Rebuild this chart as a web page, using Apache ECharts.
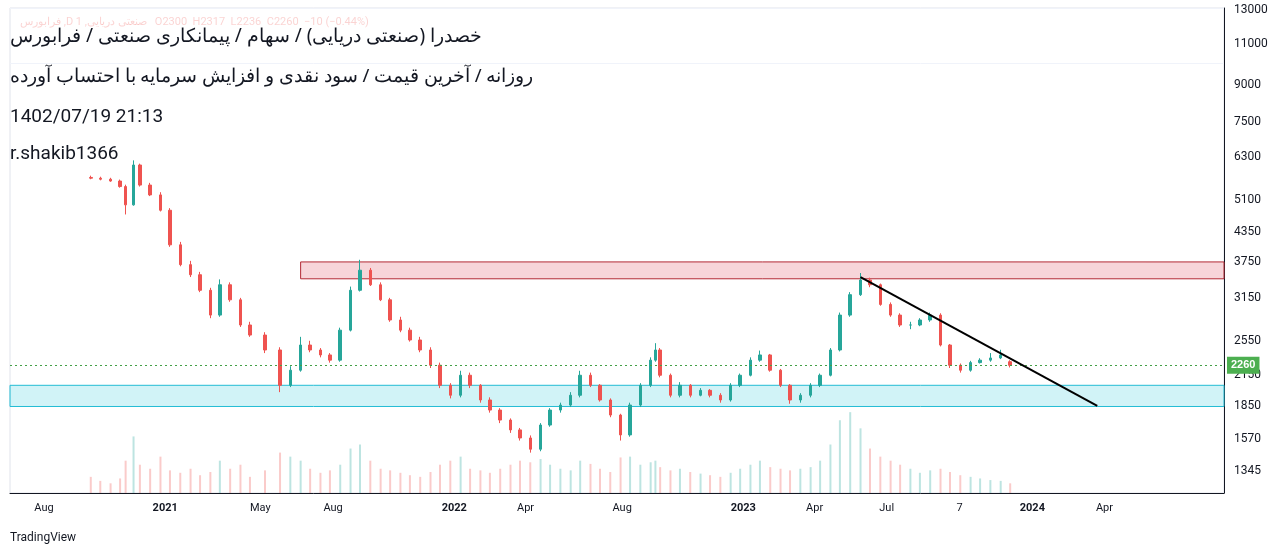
<!DOCTYPE html>
<html><head><meta charset="utf-8">
<script src="https://cdn.jsdelivr.net/npm/echarts@6/dist/echarts.min.js"></script>
<style>html,body{margin:0;padding:0;background:#fff}#c{width:1286px;height:556px}</style>
</head><body><div id="c"></div>
<script>
const dates=['2020-09-29','2020-10-11','2020-10-24','2020-11-05','2020-11-12','2020-11-22','2020-11-30','2020-12-13','2020-12-26','2021-01-07','2021-01-20','2021-02-02','2021-02-14','2021-02-27','2021-03-11','2021-03-24','2021-04-06','2021-04-18','2021-05-07','2021-05-26','2021-06-08','2021-06-21','2021-07-03','2021-07-16','2021-07-28','2021-08-10','2021-08-23','2021-09-04','2021-09-17','2021-09-30','2021-10-12','2021-10-25','2021-11-06','2021-11-19','2021-12-02','2021-12-14','2021-12-27','2022-01-09','2022-01-21','2022-02-03','2022-02-15','2022-02-28','2022-03-13','2022-03-25','2022-04-07','2022-04-20','2022-05-02','2022-05-15','2022-05-28','2022-06-09','2022-06-22','2022-07-04','2022-07-17','2022-07-30','2022-08-11','2022-08-24','2022-09-06','2022-09-12','2022-09-18','2022-10-01','2022-10-13','2022-10-26','2022-11-08','2022-11-20','2022-12-03','2022-12-16','2022-12-28','2023-01-10','2023-01-22','2023-02-04','2023-02-17','2023-03-01','2023-03-14','2023-03-27','2023-04-08','2023-04-21','2023-05-03','2023-05-16','2023-05-29','2023-06-10','2023-06-23','2023-07-06','2023-07-18','2023-07-31','2023-08-12','2023-08-25','2023-09-07','2023-09-19','2023-10-02','2023-10-15','2023-10-27','2023-11-09','2023-11-22','2023-12-04'];
const opens=[5700,5680,5650,5600,5450,4980,6060,5490,5230,4850,4090,3710,3530,3270,2894,3360,3120,2756,2623,2437,2048,2206,2497,2437,2378,2318,2687,3270,3610,3360,3120,2825,2687,2560,2437,2261,2048,1950,2152,2048,1905,1813,1726,1644,1580,1495,1684,1813,1858,1950,2152,2048,1905,1769,1604,1858,2048,2318,2437,2152,1950,2048,1950,1998,1950,1905,2048,2152,2318,2378,2206,2048,1905,1950,2048,2152,2437,2894,3200,3440,3360,3050,2894,2756,2756,2825,2894,2497,2261,2206,2290,2318,2343,2300];
const closes=[5680,5650,5600,5450,4980,6060,5490,5230,4850,4090,3710,3530,3270,2894,3360,3120,2756,2623,2437,2048,2206,2497,2437,2378,2318,2687,3270,3610,3360,3120,2825,2687,2560,2437,2261,2048,1950,2152,2048,1905,1813,1726,1644,1580,1495,1684,1813,1858,1950,2152,2048,1905,1769,1604,1858,2048,2318,2437,2152,1950,2048,1950,1998,1950,1905,2048,2152,2318,2378,2206,2048,1905,1950,2048,2152,2437,2894,3200,3440,3360,3050,2894,2756,2756,2825,2894,2497,2261,2206,2290,2318,2343,2378,2260];
const highs=[5750,5720,5690,5640,5500,6200,6100,5550,5300,4900,4150,3780,3580,3310,3450,3400,3150,2800,2660,2470,2250,2600,2550,2460,2400,2720,3330,3800,3650,3400,3150,2870,2720,2600,2470,2290,2070,2200,2180,2060,1930,1830,1740,1660,1600,1700,1830,1880,1980,2200,2180,2060,1920,1780,1880,2070,2350,2520,2460,2170,2080,2060,2020,2010,1970,2070,2170,2350,2430,2390,2220,2060,1970,2070,2170,2460,2930,3240,3560,3480,3380,3080,2920,2800,2850,2930,2920,2510,2280,2310,2340,2400,2440,2317];
const lows=[5650,5620,5580,5420,4750,4960,5450,5200,4820,4050,3680,3490,3240,2850,2870,3090,2730,2600,2400,1980,2030,2190,2410,2350,2290,2300,2670,3250,3340,3100,2800,2660,2540,2410,2230,2020,1920,1930,2020,1880,1790,1700,1620,1560,1470,1480,1670,1790,1840,1930,2030,1890,1750,1560,1590,1840,2030,2300,2130,1930,1930,1930,1940,1930,1880,1890,2030,2140,2300,2190,2030,1870,1880,1930,2030,2140,2420,2870,3180,3320,3030,2870,2730,2700,2740,2800,2480,2230,2180,2190,2280,2300,2330,2236];
const volumes=[20,15,12,18,40,70,35,30,45,28,25,30,22,26,40,30,35,20,28,50,45,40,30,25,28,35,55,60,40,30,28,25,22,20,26,35,40,45,30,28,25,30,35,40,38,42,35,30,28,40,36,30,26,44,45,35,38,40,32,28,30,26,24,22,20,25,30,35,40,32,30,28,30,32,40,60,90,100,80,55,45,40,35,30,25,28,30,26,22,20,18,16,15,12];
const yTicks=[1345,1570,1850,2150,2550,3150,3750,4350,5100,6300,7500,9000,11000,13000];
const xTicks=['2020-08-01','2021-01-01','2021-05-01','2021-08-01','2022-01-01','2022-04-01','2022-08-01','2023-01-01','2023-04-01','2023-07-01','2023-10-01','2024-01-01','2024-04-01'];
const lastPrice=2260;

const UP='#26a69a',DN='#ef5350';
const T=s=>+new Date(s+'T00:00:00Z');
const XMIN=T('2020-06-19'),XMAX=T('2024-08-30');
const candle=dates.map((d,i)=>[T(d),opens[i],closes[i],lows[i],highs[i]]);
const vol=dates.map((d,i)=>({value:[T(d),volumes[i]],itemStyle:{color:closes[i]>=opens[i]?'rgba(38,166,154,0.3)':'rgba(239,83,80,0.3)'}}));
const mon=['Jan','Feb','Mar','Apr','May','Jun','Jul','Aug','Sep','Oct','Nov','Dec'];
const ts=xTicks.map(T);
const chart=echarts.init(document.getElementById('c'));
const g={left:10,right:62,top:8,bottom:63};
chart.setOption({
  animation:false,
  grid:[Object.assign({},g,{show:true,borderColor:'#e0e3eb',borderWidth:1}),Object.assign({},g)],
  xAxis:[{type:'value',gridIndex:0,min:XMIN,max:XMAX,
    axisLine:{lineStyle:{color:'#131722'}},axisTick:{show:false},splitLine:{show:false},
    axisLabel:{customValues:ts,color:'#131722',fontSize:11,fontFamily:'Roboto',margin:10,showMinLabel:true,showMaxLabel:true,
      formatter:v=>{const d=new Date(v);const m=d.getUTCMonth();if(m===0)return '{b|'+d.getUTCFullYear()+'}';if(m===9)return '7';return mon[m];},
      rich:{b:{fontWeight:'bold',fontSize:11,color:'#131722'}}}},
    {type:'value',gridIndex:1,min:XMIN,max:XMAX,show:false}],
  yAxis:[{type:'log',gridIndex:0,position:'right',min:1205,max:13130,
    axisLine:{show:true,lineStyle:{color:'#131722'}},axisTick:{show:false},
    splitLine:{show:true,lineStyle:{color:'#f0f3fa'}},
    axisLabel:{customValues:yTicks,color:'#131722',fontSize:12,fontFamily:'Roboto',margin:10,formatter:v=>String(v)}},
    {type:'value',gridIndex:1,min:0,max:600,show:false}],
  series:[
    {type:'bar',xAxisIndex:1,yAxisIndex:1,data:vol,barWidth:2},
    {type:'line',xAxisIndex:0,yAxisIndex:0,data:[],itemStyle:{color:'#43a047'},
      markLine:{silent:true,symbol:'none',lineStyle:{color:'#43a047',type:[2,3],width:1.2,opacity:1},data:[
        {yAxis:lastPrice,label:{show:true,position:'end',formatter:String(lastPrice),color:'#fff',backgroundColor:'#4caf50',padding:[3,4],fontSize:11,fontWeight:'bold',distance:3}}]}},
    {type:'candlestick',xAxisIndex:0,yAxisIndex:0,data:candle,barWidth:3,
      itemStyle:{color:UP,color0:DN,borderColor:UP,borderColor0:DN},
      markArea:{silent:true,data:[
        [{coord:[T('2021-06-21'),3760],itemStyle:{color:'rgba(242,190,196,0.65)',borderColor:'#b22833',borderWidth:1}},{coord:[XMAX,3460]}],
        [{coord:[XMIN,2048],itemStyle:{color:'rgba(178,235,242,0.6)',borderColor:'#22bcd4',borderWidth:1}},{coord:[XMAX,1845]}]
      ]},
      markLine:{silent:true,symbol:'none',lineStyle:{color:'#000',type:'solid',width:2},data:[
        [{coord:[T('2023-05-29'),3490],label:{show:false}},{coord:[T('2024-03-23'),1850]}]
      ]}}
  ],
  graphic:[
    {type:'text',left:20,top:17,style:{text:'فرابورس ,D صنعتی دریایی, 1   O2300  H2317  L2236  C2260  −10 (−0.44%)',fill:'rgba(239,83,80,0.25)',fontSize:11,fontFamily:'Roboto'}},
    {type:'text',left:10,top:27,style:{text:'خصدرا (صنعتی دریایی) / سهام / پیمانکاری صنعتی / فرابورس',fill:'#131722',fontSize:19,fontFamily:'Noto Sans'}},
    {type:'text',left:10,top:67,style:{text:'روزانه / آخرین قیمت / سود نقدی و افزایش سرمایه با احتساب آورده',fill:'#131722',fontSize:18.5,fontFamily:'Noto Sans'}},
    {type:'text',left:10,top:108,style:{text:'1402/07/19 21:13',fill:'#131722',fontSize:19,fontFamily:'Roboto'}},
    {type:'text',left:10,top:145,style:{text:'r.shakib1366',fill:'#131722',fontSize:19,fontFamily:'Roboto'}},
    {type:'text',left:10,top:532,style:{text:'TradingView',fill:'#131722',fontSize:12,fontFamily:'Roboto'}}
  ]
});
</script></body></html>
